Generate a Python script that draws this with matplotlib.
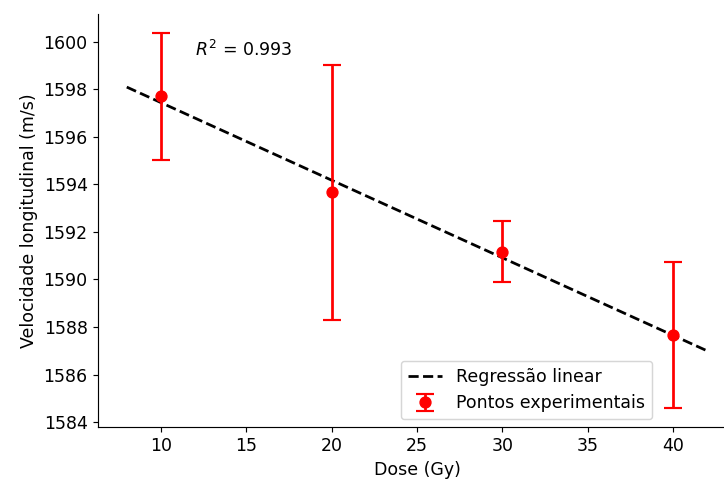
import matplotlib
matplotlib.use("Agg")
import matplotlib.pyplot as plt
import numpy as np

# dose (Gy) and measured longitudinal velocity (m/s)
dose = np.array([10, 20, 30, 40])
velocity = np.array([1597.69, 1593.66, 1591.16, 1587.65])
velocity_err = np.array([2.68, 5.37, 1.28, 3.07])
fit_range = [8, 42]
r2_label = r"$R^2$ = 0.993"

DPI = 104
plt.rcParams["font.size"] = 12

fig = plt.figure(figsize=(724 / DPI, 481 / DPI), dpi=DPI)
ax = fig.add_axes([0.135, 0.112, 0.882, 0.859])

slope, intercept = np.polyfit(dose, velocity, 1)
xfit = np.linspace(fit_range[0], fit_range[1], 100)
ax.plot(xfit, slope * xfit + intercept, "k--", lw=1.9, label="Regressão linear")
ax.errorbar(dose, velocity, yerr=velocity_err, fmt="o", color="red",
            ms=7.5, lw=1.9, capsize=6, capthick=1.5, label="Pontos experimentais")

ax.text(12, 1599.4, r2_label, fontsize=12)
ax.set_xlabel("Dose (Gy)")
ax.set_ylabel("Velocidade longitudinal (m/s)")
ax.spines["top"].set_visible(False)
ax.spines["right"].set_visible(False)
ax.legend(loc="lower right", bbox_to_anchor=(0.868, 0.019), borderaxespad=0)

fig.savefig("out.png", dpi=DPI)
